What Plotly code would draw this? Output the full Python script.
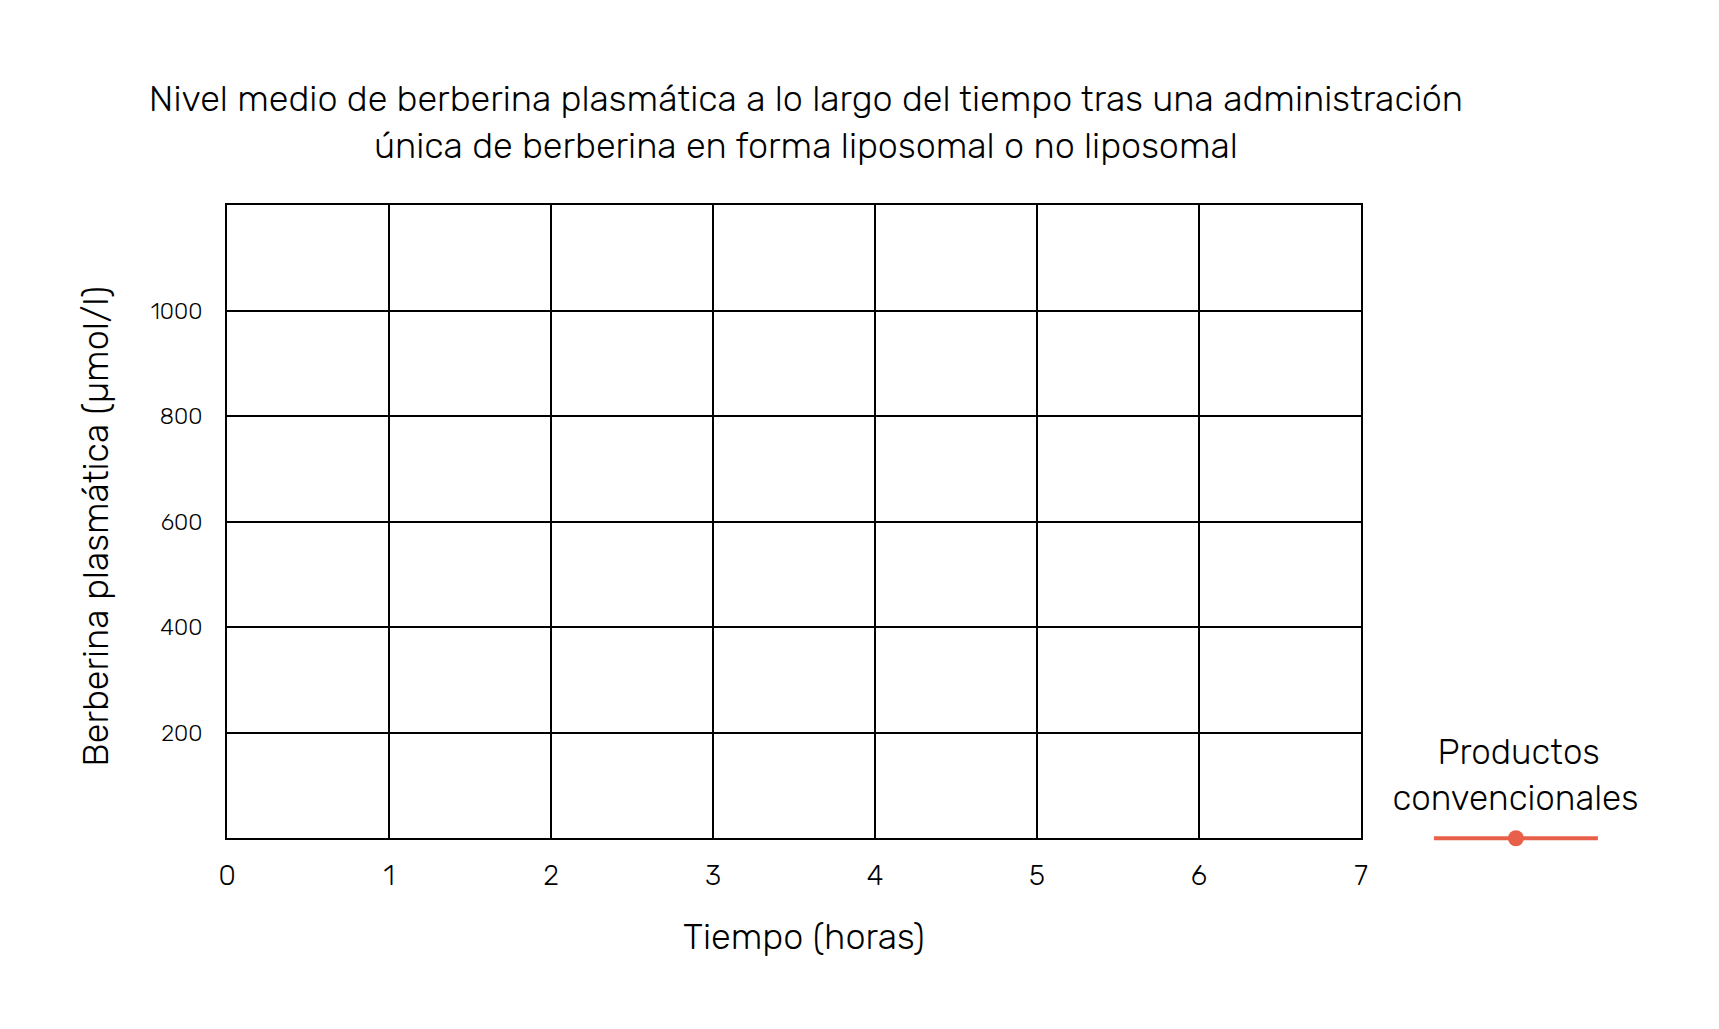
import plotly.graph_objects as go

# eje x: tiempo en horas
horas = [0, 1, 2, 3, 4, 5, 6, 7]
# eje y: marcas de nivel plasmático
niveles = [200, 400, 600, 800, 1000]

# serie de la leyenda: todavía sin valores visibles en el gráfico
conv_tiempo = [None]
conv_nivel = [None]

fuente = "Rubik, Roboto, sans-serif"
rojo = "#E8604A"

fig = go.Figure()

fig.add_trace(
    go.Scatter(
        x=conv_tiempo,
        y=conv_nivel,
        mode="lines+markers",
        name="",
        line=dict(color=rojo, width=4),
        marker=dict(color=rojo, size=16),
        showlegend=True
    )
)

fig.update_layout(
    width=1719,
    height=1029,
    paper_bgcolor="white",
    plot_bgcolor="white",
    font=dict(family=fuente, color="black", weight=300),
    margin=dict(l=219, r=366, t=197, b=199),
    title=dict(
        text="Nivel medio de berberina plasmática a lo largo del tiempo tras una administración<br>única de berberina en forma liposomal o no liposomal",
        font=dict(size=36, family=fuente, weight=300),
        x=0.4642,
        xanchor="center",
        yref="container",
        y=1 - 103 / 1029,
        yanchor="middle"
    ),
    xaxis=dict(
        range=[0, 7],
        tickvals=horas,
        ticktext=[str(h) for h in horas],
        tickfont=dict(size=28),
        ticklabelstandoff=11,
        showgrid=True,
        gridcolor="black",
        gridwidth=2,
        zeroline=False,
        showline=True,
        linecolor="black",
        linewidth=2,
        mirror=True
    ),
    yaxis=dict(
        range=[0, 1200],
        tickvals=niveles,
        ticktext=[str(v) for v in niveles],
        tickfont=dict(size=23),
        ticklabelstandoff=18,
        showgrid=True,
        gridcolor="black",
        gridwidth=2,
        zeroline=False,
        showline=True,
        linecolor="black",
        linewidth=2,
        mirror=True
    ),
    legend=dict(
        # espacios duros para centrar la primera línea sobre la segunda
        title=dict(
            text="&nbsp;&nbsp;&nbsp;&nbsp;&nbsp;Productos<br>convencionales",
            side="top center",
            font=dict(size=35)
        ),
        font=dict(size=34),
        itemwidth=164,
        indentation=39,
        x=1.0255,
        xanchor="left",
        y=-0.0468,
        yanchor="bottom",
        bgcolor="rgba(0,0,0,0)"
    ),
    annotations=[
        dict(
            text="Tiempo (horas)",
            xref="paper", yref="paper",
            x=0.509, y=-0.1558,
            xanchor="center", yanchor="middle",
            showarrow=False,
            font=dict(size=36)
        ),
        dict(
            text="Berberina plasmática (µmol/l)",
            xref="paper", yref="paper",
            x=-0.1157, y=0.493,
            xanchor="center", yanchor="middle",
            textangle=-90,
            showarrow=False,
            font=dict(size=36)
        )
    ]
)

fig.write_html("out.html")
